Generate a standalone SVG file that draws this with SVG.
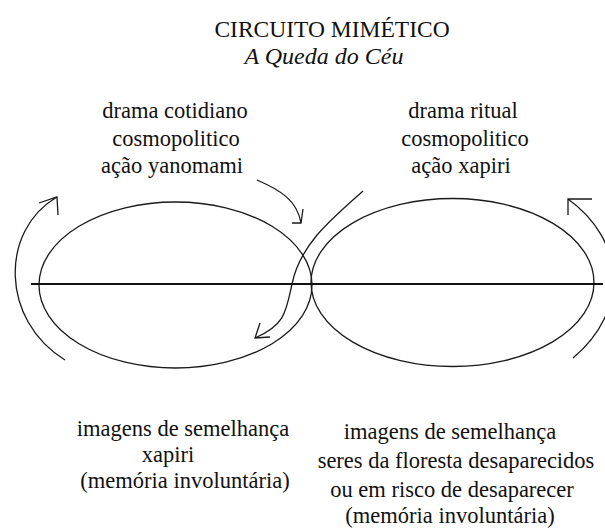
<svg xmlns="http://www.w3.org/2000/svg" width="605" height="529" viewBox="0 0 605 529">
<style>
text{font-family:"Liberation Serif","Times New Roman",serif;fill:#111;text-anchor:middle}
.t{font-size:23.5px}
.s{font-size:24px;font-style:italic}
.b{font-size:22.5px}
.ln{fill:none;stroke:#1a1a1a;stroke-width:1.3}
</style>
<rect width="605" height="529" fill="#fff"/>
<g id="title">
<text class="t" x="332" y="37">CIRCUITO MIMÉTICO</text>
<text class="s" x="324" y="64">A Queda do Céu</text>
</g>
<g id="ellipse-left">
<ellipse class="ln" cx="175.5" cy="285" rx="136.5" ry="83"/>
</g>
<g id="ellipse-right">
<ellipse class="ln" cx="452.5" cy="282.5" rx="141.5" ry="84"/>
</g>
<g id="label-top-left">
<text class="b" x="175" y="118">drama cotidiano</text>
<text class="b" x="176" y="146">cosmopolitico</text>
<text class="b" x="172" y="173">ação yanomami</text>
</g>
<g id="label-top-right">
<text class="b" x="463" y="118">drama ritual</text>
<text class="b" x="465" y="146">cosmopolitico</text>
<text class="b" x="461" y="173">ação xapiri</text>
</g>
<g id="label-bottom-left">
<text class="b" x="183" y="436">imagens de semelhança</text>
<text class="b" x="168" y="462">xapiri</text>
<text class="b" x="185" y="488">(memória involuntária)</text>
</g>
<g id="label-bottom-right">
<text class="b" x="450" y="439">imagens de semelhança</text>
<text class="b" x="456" y="468">seres da floresta desaparecidos</text>
<text class="b" x="452" y="497">ou em risco de desaparecer</text>
<text class="b" x="450" y="523">(memória involuntária)</text>
</g>
<g id="connectors">
<line x1="31" y1="284" x2="603" y2="284" stroke="#111" stroke-width="1.8"/>
<path class="ln" d="M65,360 C0,320 0,230 57,197 M39,203 L57,197 L58,215"/>
<path class="ln" d="M573,358 C630,310 625,240 568,199 M592,199 L568,199 L568,215"/>
<path class="ln" d="M257,180 C280,190 297,200 301,223 M292,223 L301,223 L303,209"/>
<path class="ln" d="M363,191 C330,220 300,245 292,284 C286,312 285,325 255,338 M260,323 L255,338 L270,337"/>
</g>
</svg>
